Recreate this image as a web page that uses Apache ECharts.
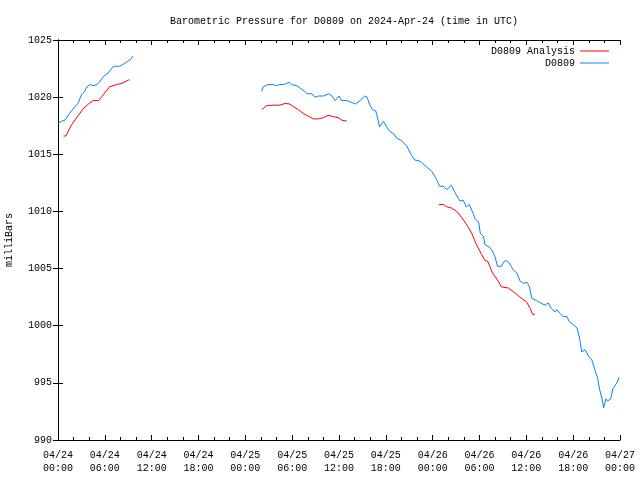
<!DOCTYPE html>
<html>
<head>
<meta charset="utf-8">
<script src="https://cdn.jsdelivr.net/npm/echarts@6/dist/echarts.min.js"></script>
<style>html,body{margin:0;padding:0;background:#fff}#c{width:640px;height:480px}</style>
</head>
<body>
<div id="c"></div>
<script>
// Hours since 2024-04-24 00:00 UTC; null separates gaps
const blueHours = [0,0.5,0.9,1.5,2.2,2.6,3.0,3.4,3.7,4.1,4.5,5.0,5.4,5.8,6.4,7.1,7.5,7.9,8.4,8.8,9.0,9.3,9.6,
  null,
  26.1,26.3,26.9,27.6,28.0,28.4,28.9,29.3,29.6,29.9,30.6,31.2,31.6,31.9,32.5,32.9,33.4,33.6,34.0,34.2,34.7,35.1,35.5,35.7,36.0,36.3,37.0,37.4,37.6,38.1,38.7,39.3,39.6,39.9,40.3,40.7,40.9,41.2,41.3,41.7,42.1,42.5,43.0,43.4,44.0,44.7,45.3,45.7,46.4,47.2,47.9,48.5,48.9,49.4,49.8,50.4,50.9,51.5,51.9,52.3,52.7,53.2,53.4,53.9,54.1,54.5,54.7,55.2,55.6,56.0,56.3,56.8,57.1,57.4,57.8,58.3,58.8,59.2,59.6,60.1,60.4,60.7,61.3,61.8,62.4,62.8,63.2,63.7,63.9,64.3,64.7,65.2,65.5,66.0,66.5,66.8,67.1,67.5,67.7,68.0,68.4,68.8,69.1,69.4,69.7,69.9,70.2,70.4,70.8,71.1,71.6,71.9];
const bluePressure = [1017.7,1017.9,1018.0,1018.6,1019.2,1019.5,1020.2,1020.5,1020.9,1021.1,1021.0,1021.1,1021.4,1021.8,1022.1,1022.7,1022.7,1022.7,1022.9,1023.1,1023.0,1023.3,1023.6,
  null,
  1020.5,1020.9,1021.1,1021.1,1021.0,1021.1,1021.1,1021.2,1021.3,1021.1,1021.0,1020.7,1020.5,1020.3,1020.3,1020.0,1020.1,1020.0,1020.1,1020.0,1020.3,1020.1,1019.7,1019.6,1020.1,1019.7,1019.7,1019.6,1019.5,1019.4,1019.7,1020.1,1020.0,1019.4,1018.9,1018.8,1018.3,1017.4,1017.3,1017.9,1017.4,1017.0,1016.8,1016.4,1016.2,1015.7,1014.9,1014.5,1014.4,1013.9,1013.5,1012.8,1012.2,1012.2,1011.9,1012.3,1011.6,1010.9,1011.0,1010.4,1010.6,1009.8,1009.4,1009.0,1008.1,1007.8,1007.1,1006.9,1006.6,1006.0,1005.2,1005.2,1005.6,1005.7,1005.5,1004.9,1004.6,1003.9,1003.7,1003.8,1003.4,1002.4,1002.2,1002.0,1001.8,1002.0,1001.5,1001.2,1001.4,1001.1,1000.8,1000.8,1000.35,1000.1,999.8,999.0,997.7,997.9,997.7,997.3,997.0,996.1,995.5,994.4,993.6,992.8,993.6,993.4,993.6,994.5,995.0,995.5];
const redHours = [0.7,1.0,1.75,2.6,3.25,3.9,4.5,5.2,5.8,6.6,7.5,8.2,9.0,9.2,
  null,
  26.1,26.7,27.6,28.4,29.1,29.7,30.1,30.8,31.4,31.9,32.7,33.4,34.0,34.6,35.3,35.9,36.3,37.0,
  null,
  48.8,49.4,49.8,50.4,51.1,51.7,52.4,53.0,53.6,54.3,54.7,55.1,55.6,56.0,56.4,56.8,57.7,58.3,59.2,60.0,60.5,60.8,61.1];
const redPressure = [1016.6,1016.6,1017.6,1018.4,1019.0,1019.4,1019.7,1019.7,1020.2,1020.9,1021.1,1021.2,1021.5,1021.5,
  null,
  1018.9,1019.25,1019.3,1019.3,1019.45,1019.4,1019.2,1018.9,1018.6,1018.4,1018.1,1018.1,1018.2,1018.4,1018.3,1018.2,1018.0,1017.9,
  null,
  1010.6,1010.6,1010.4,1010.3,1010.0,1009.5,1008.8,1008.1,1007.1,1006.2,1005.7,1005.6,1004.7,1004.3,1003.9,1003.4,1003.3,1003.0,1002.5,1002.1,1001.5,1001.0,1001.0];
const xTickLabels = ['04/24\n00:00','04/24\n06:00','04/24\n12:00','04/24\n18:00','04/25\n00:00','04/25\n06:00','04/25\n12:00','04/25\n18:00','04/26\n00:00','04/26\n06:00','04/26\n12:00','04/26\n18:00','04/27\n00:00'];
const titleText = 'Barometric Pressure for D0809 on 2024-Apr-24 (time in UTC)';
const seriesNames = ['D0809 Analysis', 'D0809'];

function pairs(h, p) { return h.map((v, i) => v === null ? [null, null] : [v, p[i]]); }

const FONT = 'Liberation Mono';
const txt = { fontFamily: FONT, fontSize: 10, color: '#000' };
const axisLine = { show: true, lineStyle: { color: '#000', width: 1 } };

const chart = echarts.init(document.getElementById('c'));
chart.setOption({
  animation: false,
  backgroundColor: '#fff',
  title: { text: titleText, left: 339, textAlign: 'center', top: 11, textStyle: Object.assign({}, txt, { fontWeight: 'normal' }) },
  legend: [
    { data: [seriesNames[0]], right: 31, top: 46, orient: 'vertical', align: 'right', padding: 0, itemGap: 0,
      icon: 'rect', itemWidth: 29, itemHeight: 1, textStyle: txt, selectedMode: false },
    { data: [seriesNames[1]], right: 31, top: 58, orient: 'vertical', align: 'right', padding: 0, itemGap: 0,
      icon: 'rect', itemWidth: 29, itemHeight: 1, textStyle: txt, selectedMode: false }
  ],
  grid: { left: 58, right: 20, top: 40, bottom: 40, containLabel: false, outerBoundsMode: 'none' },
  xAxis: [
    { type: 'value', min: 0, max: 72, interval: 6, axisLine: axisLine,
      axisTick: { inside: true, length: 5, lineStyle: { color: '#000' } },
      minorTick: { show: true, splitNumber: 3, length: 3, lineStyle: { color: '#000' } },
      splitLine: { show: false },
      axisLabel: Object.assign({}, txt, { margin: 9, lineHeight: 13, formatter: v => xTickLabels[Math.round(v / 6)] }) },
    { type: 'value', position: 'top', min: 0, max: 72, interval: 6, axisLine: axisLine,
      axisTick: { inside: true, length: 5, lineStyle: { color: '#000' } },
      minorTick: { show: true, splitNumber: 3, length: 3, lineStyle: { color: '#000' } },
      splitLine: { show: false }, axisLabel: { show: false } }
  ],
  yAxis: [
    { type: 'value', min: 990, max: 1025, interval: 5, axisLine: axisLine,
      axisTick: { inside: true, length: 5, lineStyle: { color: '#000' } },
      splitLine: { show: false },
      axisLabel: Object.assign({}, txt, { margin: 6, formatter: v => String(v) }),
      name: 'milliBars', nameLocation: 'middle', nameRotate: 90, nameGap: 44, nameTextStyle: txt },
    { type: 'value', position: 'right', min: 990, max: 1025, interval: 5, axisLine: axisLine,
      axisTick: { inside: true, length: 5, lineStyle: { color: '#000' } },
      splitLine: { show: false }, axisLabel: { show: false } }
  ],
  series: [
    { name: seriesNames[0], type: 'line', data: pairs(redHours, redPressure), showSymbol: false, symbol: 'none',
      connectNulls: false, color: '#ff0000', lineStyle: { width: 1, color: '#ff0000' } },
    { name: seriesNames[1], type: 'line', data: pairs(blueHours, bluePressure), showSymbol: false, symbol: 'none',
      connectNulls: false, color: '#0a80ff', lineStyle: { width: 1, color: '#0a80ff' } }
  ]
});
</script>
</body>
</html>
